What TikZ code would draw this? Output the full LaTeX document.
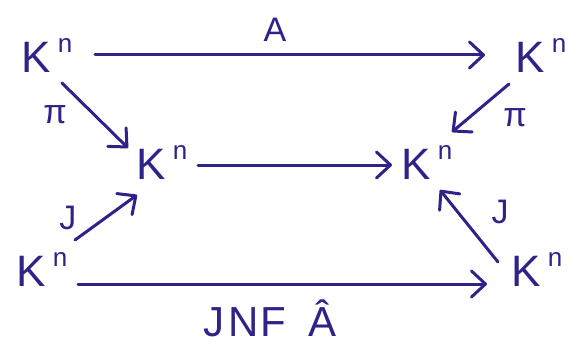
\documentclass[tikz,border=0pt]{standalone}
\usepackage{fontspec}
\setmainfont{Liberation Sans}
\usetikzlibrary{arrows.meta}
\definecolor{ink}{HTML}{2E2388}
\newcommand{\Kn}{K\hspace{7pt}\raisebox{20pt}{\fontsize{26}{28}\selectfont n}}
\begin{document}
\begin{tikzpicture}[x=1pt,y=-1pt,
  sp/.style={text=ink,inner sep=0pt,outer sep=0pt,font=\fontsize{44}{48}\selectfont},
  lab/.style={text=ink,inner sep=0pt,font=\fontsize{34}{38}\selectfont},
  arr/.style={draw=ink,line width=3pt,line cap=round,-{Straight Barb[length=14pt,width=26pt,line width=3pt,round]}}]
\useasboundingbox (0,0) rectangle (587,353);
\node[sp] (tl) at (47,56) {\Kn};
\node[sp] (tr) at (541,56) {\Kn};
\node[sp] (ml) at (162,163) {\Kn};
\node[sp] (mr) at (427,163) {\Kn};
\node[sp] (bl) at (42,270) {\Kn};
\node[sp] (br) at (537,270) {\Kn};
\draw[arr] ([shift={(48,-1)}]tl.center) -- ([shift={(-56,-1)}]tr.center);
\draw[arr] ([shift={(36,2)}]ml.center) -- ([shift={(-35,2)}]mr.center);
\draw[arr] ([shift={(36,14)}]bl.center) -- ([shift={(-50,14)}]br.center);
\draw[arr] ([shift={(15,27)}]tl.center) -- ([shift={(-34,-15)}]ml.center);
\draw[arr] ([shift={(-32,28)}]tr.center) -- ([shift={(25,-31)}]mr.center);
\draw[arr] ([shift={(33,-30)}]bl.center) -- ([shift={(-25,32)}]ml.center);
\draw[arr] ([shift={(-39,-8)}]br.center) -- ([shift={(13,27)}]mr.center);
\node[lab] (la) at (275,30) {A};
\node[lab] (lp1) at (55,115) {π};
\node[lab] (lp2) at (515,118) {π};
\node[lab] (lj1) at (68,218) {J};
\node[lab] (lj2) at (500,212) {J};
\node[lab,font=\fontsize{42}{46}\selectfont] (lb) at (270,318) {J\hspace{4pt}N\hspace{2pt}F\hspace{22pt}Â};
\end{tikzpicture}
\end{document}
